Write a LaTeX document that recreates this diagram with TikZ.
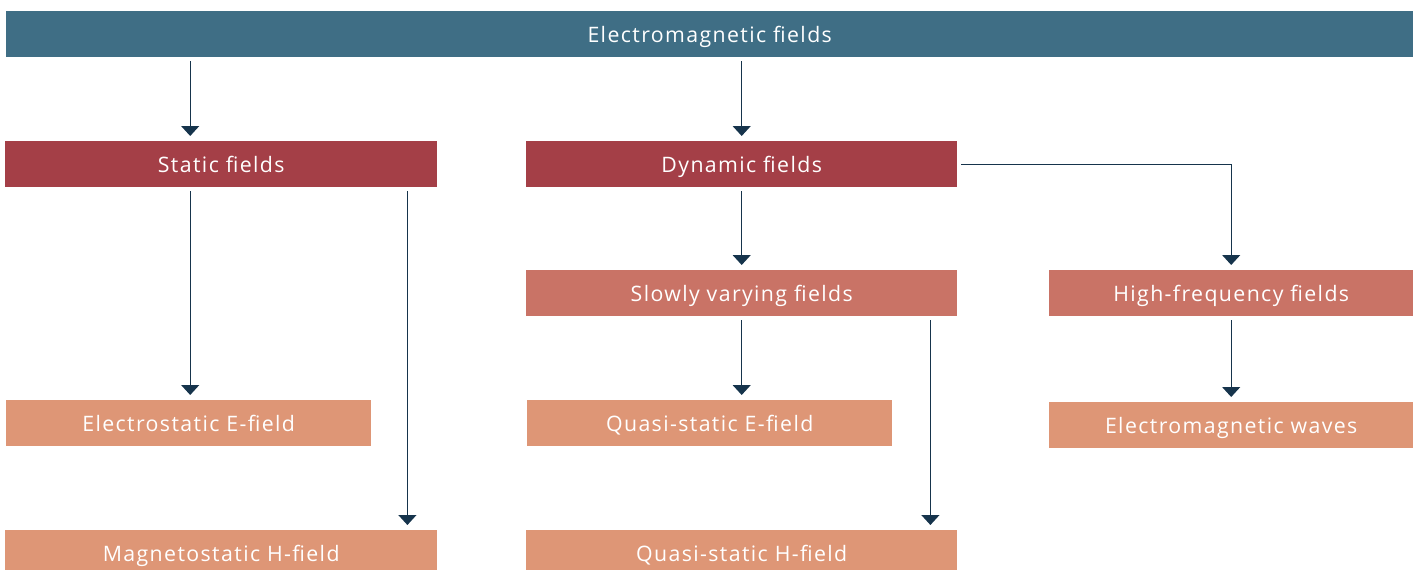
\documentclass[tikz,border=0pt]{standalone}
\usepackage{fontspec}
\setmainfont[LetterSpace=6.5]{Open Sans}
\usetikzlibrary{arrows.meta, positioning}

\definecolor{topblue}{RGB}{63,110,133}
\definecolor{catred}{RGB}{164,63,71}
\definecolor{subred}{RGB}{201,115,102}
\definecolor{leafpeach}{RGB}{222,150,118}
\definecolor{arrowblue}{RGB}{22,52,76}

\tikzset{
    box/.style={rectangle, anchor=north west, inner sep=0pt, minimum height=46pt,
        text height=17.4pt, text depth=0pt,
        text=white, font=\fontsize{21.3}{25}\selectfont},
    arr/.style={-{Triangle[width=18pt,length=10pt]}, line width=1.3pt, draw=arrowblue,
        shorten <=4pt, shorten >=5pt}
}

\begin{document}
\begin{tikzpicture}[x=1pt, y=-1pt]
        \useasboundingbox (0,0) rectangle (1419,570);

        % boxes
        \node[box, fill=topblue, minimum width=1407pt] (em) at (6,11) {Electromagnetic fields};
        \node[box, fill=catred, minimum width=432pt] (stat) at (5,141) {Static fields};
        \node[box, fill=catred, minimum width=431pt] (dyn) at (526,141) {Dynamic fields};
        \node[box, fill=subred, minimum width=431pt] (slow) at (526,270) {Slowly varying fields};
        \node[box, fill=subred, minimum width=364pt] (hf) at (1049,270) {High-frequency fields};
        \node[box, fill=leafpeach, minimum width=365pt] (es) at (6,400) {Electrostatic E-field};
        \node[box, fill=leafpeach, minimum width=365pt] (qe) at (527,400) {Quasi-static E-field};
        \node[box, fill=leafpeach, minimum width=364pt] (emw) at (1049,402) {Electromagnetic waves};
        \node[box, fill=leafpeach, minimum width=432pt] (ms) at (5,530) {Magnetostatic H-field};
        \node[box, fill=leafpeach, minimum width=431pt] (qh) at (526,530) {Quasi-static H-field};

        % arrows
        \draw[arr] ([xshift=1.5pt]em.south -| es.north) -- ([xshift=1.5pt]stat.north -| es.north);
        \draw[arr] (em.south -| dyn.north) -- (dyn.north);
        \draw[arr] ([xshift=1.5pt]stat.south -| es.north) -- ([xshift=1.5pt]es.north);
        \draw[arr] ([xshift=-30pt]stat.south east) -- ([xshift=-30pt]stat.south east |- ms.north);
        \draw[arr] (dyn.south) -- (slow.north);
        \draw[arr] (dyn.east) -| (hf.north);
        \draw[arr] (slow.south) -- (qe.north -| slow.south);
        \draw[arr] ([xshift=-27pt]slow.south east) -- ([xshift=-27pt]slow.south east |- qh.north);
        \draw[arr] (hf.south) -- (emw.north);
    \end{tikzpicture}
\end{document}
